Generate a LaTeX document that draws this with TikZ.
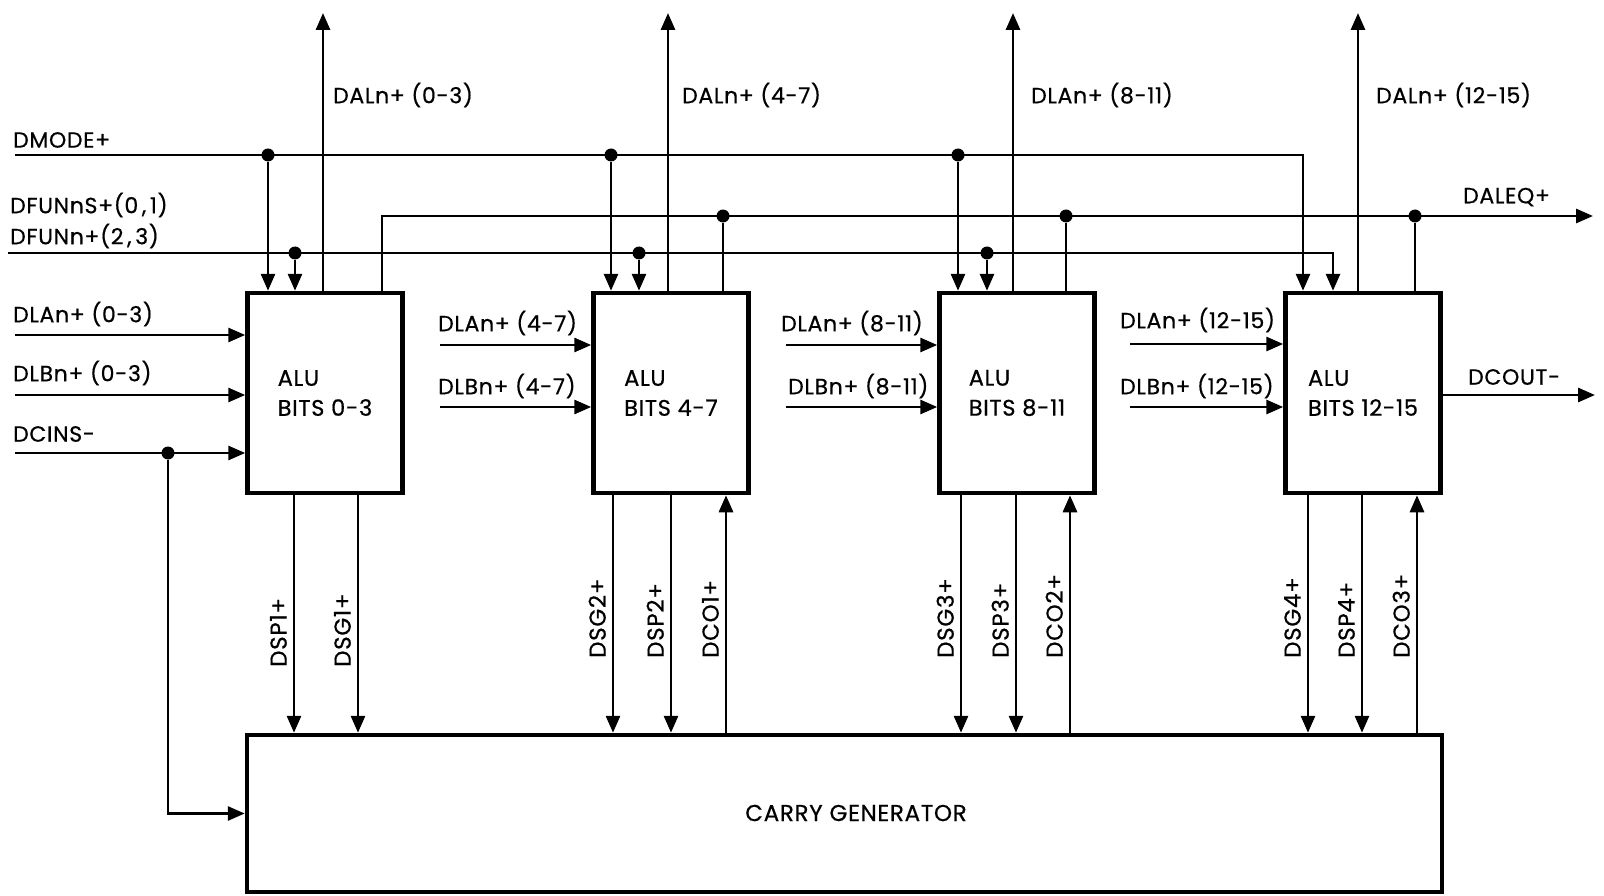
\documentclass[tikz,border=0pt]{standalone}
\usepackage{fontspec}
\setmainfont{Poppins}[FakeBold=0.6,LetterSpace=3]
\usetikzlibrary{arrows.meta,calc}
\begin{document}
\begin{tikzpicture}[x=1pt,y=-1pt,
 wire/.style={line width=2.9pt},
 arr/.style={wire,-{Triangle[length=17pt,width=14pt]}},
 alu/.style={draw,line width=4.5pt,minimum width=155pt,minimum height=200pt,align=left,font=\fontsize{22.5}{30}\selectfont,inner sep=0pt},
 cgbox/.style={draw,line width=4.5pt,minimum width=1195pt,minimum height=157pt,inner sep=0pt},
 cglbl/.style={font=\fontsize{23}{26}\selectfont,inner sep=0pt},
 lbl/.style={font=\fontsize{22}{26}\selectfont,inner sep=0pt},
 vlbl/.style={lbl,font=\fontsize{23}{26}\selectfont,rotate=90,anchor=south west},
 dot/.style={circle,fill,inner sep=0pt,minimum size=13pt},
]
\useasboundingbox (0,0) rectangle (1604,896);

% boxes
\node[alu] (a0) at (325,393) {ALU\\BITS 0-3};
\node[alu] (a1) at (671,393) {ALU\\BITS 4-7};
\node[alu] (a2) at (1017,393) {ALU\\BITS 8-11};
\node[alu] (a3) at (1363,393) {ALU\\BITS 12-15};
\node[cgbox] (cg) at (844.5,813.5) {};
\node[cglbl] (cgt) at (856,813) {CARRY GENERATOR};

% DAL outputs
\coordinate (t0) at (323,13);
\coordinate (t1) at (668,13);
\coordinate (t2) at (1013,13);
\coordinate (t3) at (1358,13);
\draw[arr] (t0 |- a0.north) -- (t0);
\draw[arr] (t1 |- a1.north) -- (t1);
\draw[arr] (t2 |- a2.north) -- (t2);
\draw[arr] (t3 |- a3.north) -- (t3);
\node[lbl,anchor=west] (Lt0) at (333,95) {DALn+ (0-3)};
\node[lbl,anchor=west] (Lt1) at (682,95) {DALn+ (4-7)};
\node[lbl,anchor=west] (Lt2) at (1031,95) {DLAn+ (8-11)};
\node[lbl,anchor=west] (Lt3) at (1376,95) {DALn+ (12-15)};

% DMODE
\coordinate (dmS) at (15,155);
\coordinate (dmE) at (1303,155);
\draw[arr] (dmS) -- (dmE) -- (dmE |- a3.north);
\node[dot] (dm0) at (268,155) {};
\node[dot] (dm1) at (611,155) {};
\node[dot] (dm2) at (958,155) {};
\draw[arr] (dm0) -- (dm0 |- a0.north);
\draw[arr] (dm1) -- (dm1 |- a1.north);
\draw[arr] (dm2) -- (dm2 |- a2.north);
\node[lbl,anchor=west] (Ldm) at (13,140) {DMODE+};

% DFUN
\coordinate (dfS) at (8,253);
\coordinate (dfE) at (1333,253);
\draw[arr] (dfS) -- (dfE) -- (dfE |- a3.north);
\node[dot] (df0) at (295,253) {};
\node[dot] (df1) at (639,253) {};
\node[dot] (df2) at (987,253) {};
\draw[arr] (df0) -- (df0 |- a0.north);
\draw[arr] (df1) -- (df1 |- a1.north);
\draw[arr] (df2) -- (df2 |- a2.north);
\node[lbl,anchor=west] (Ldf1) at (10,205) {DFUNnS+(0\,,\,1)};
\node[lbl,anchor=west] (Ldf2) at (10,236) {DFUNn+(2\,,\,3)};

% DALEQ
\coordinate (eq0) at (382,216);
\coordinate (eqE) at (1593,216);
\draw[arr] (eq0 |- a0.north) -- (eq0) -- (eqE);
\node[dot] (eq1) at (723,216) {};
\node[dot] (eq2) at (1066,216) {};
\node[dot] (eq3) at (1415,216) {};
\draw[wire] (eq1) -- (eq1 |- a1.north);
\draw[wire] (eq2) -- (eq2 |- a2.north);
\draw[wire] (eq3) -- (eq3 |- a3.north);
\node[lbl,anchor=west] (Leq) at (1463,197) {DALEQ+};

% inputs ALU0
\coordinate (ia0) at (15,335);
\coordinate (ib0) at (15,395);
\coordinate (ic0) at (15,453);
\draw[arr] (ia0) -- (ia0 -| a0.west);
\draw[arr] (ib0) -- (ib0 -| a0.west);
\draw[arr] (ic0) -- (ic0 -| a0.west);
\node[lbl,anchor=west] (Lia0) at (13,314) {DLAn+ (0-3)};
\node[lbl,anchor=west] (Lib0) at (13,373) {DLBn+ (0-3)};
\node[lbl,anchor=west] (Lic0) at (13,434) {DCINS-};
\node[dot] (dci) at (168,453) {};
\draw[arr] (dci) |- (cg.west);

% inputs ALU1..3
\coordinate (ia1) at (440,345);
\coordinate (ib1) at (440,407);
\coordinate (ia2) at (786,345);
\coordinate (ib2) at (786,407);
\coordinate (ia3) at (1130,344);
\coordinate (ib3) at (1130,407);
\draw[arr] (ia1) -- (ia1 -| a1.west);
\draw[arr] (ib1) -- (ib1 -| a1.west);
\draw[arr] (ia2) -- (ia2 -| a2.west);
\draw[arr] (ib2) -- (ib2 -| a2.west);
\draw[arr] (ia3) -- (ia3 -| a3.west);
\draw[arr] (ib3) -- (ib3 -| a3.west);
\node[lbl,anchor=west] (Lia1) at (438,323) {DLAn+ (4-7)};
\node[lbl,anchor=west] (Lib1) at (438,386) {DLBn+ (4-7)};
\node[lbl,anchor=west] (Lia2) at (781,323) {DLAn+ (8-11)};
\node[lbl,anchor=west] (Lib2) at (788,386) {DLBn+ (8-11)};
\node[lbl,anchor=west] (Lia3) at (1120,320) {DLAn+ (12-15)};
\node[lbl,anchor=west] (Lib3) at (1120,386) {DLBn+ (12-15)};

% DCOUT
\coordinate (co) at (1595,395);
\draw[arr] (co -| a3.east) -- (co);
\node[lbl,anchor=west] (Lco) at (1468,377) {DCOUT-};

% bottom signals
\coordinate (s01) at (294,600);
\coordinate (s02) at (358,600);
\coordinate (s11) at (613,600);
\coordinate (s12) at (671,600);
\coordinate (s13) at (726,600);
\coordinate (s21) at (961,600);
\coordinate (s22) at (1016,600);
\coordinate (s23) at (1070,600);
\coordinate (s31) at (1308,600);
\coordinate (s32) at (1362,600);
\coordinate (s33) at (1417,600);
\draw[arr] (s01 |- a0.south) -- (s01 |- cg.north);
\draw[arr] (s02 |- a0.south) -- (s02 |- cg.north);
\draw[arr] (s11 |- a1.south) -- (s11 |- cg.north);
\draw[arr] (s12 |- a1.south) -- (s12 |- cg.north);
\draw[arr] (s13 |- cg.north) -- (s13 |- a1.south);
\draw[arr] (s21 |- a2.south) -- (s21 |- cg.north);
\draw[arr] (s22 |- a2.south) -- (s22 |- cg.north);
\draw[arr] (s23 |- cg.north) -- (s23 |- a2.south);
\draw[arr] (s31 |- a3.south) -- (s31 |- cg.north);
\draw[arr] (s32 |- a3.south) -- (s32 |- cg.north);
\draw[arr] (s33 |- cg.north) -- (s33 |- a3.south);
\node[vlbl] (L01) at (287,667) {DSP1+};
\node[vlbl] (L02) at (351,667) {DSG1+};
\node[vlbl] (L11) at (606,658) {DSG2+};
\node[vlbl] (L12) at (664,658) {DSP2+};
\node[vlbl] (L13) at (719,658) {DCO1+};
\node[vlbl] (L21) at (954,658) {DSG3+};
\node[vlbl] (L22) at (1009,658) {DSP3+};
\node[vlbl] (L23) at (1063,658) {DCO2+};
\node[vlbl] (L31) at (1301,658) {DSG4+};
\node[vlbl] (L32) at (1355,658) {DSP4+};
\node[vlbl] (L33) at (1410,658) {DCO3+};
\end{tikzpicture}
\end{document}
